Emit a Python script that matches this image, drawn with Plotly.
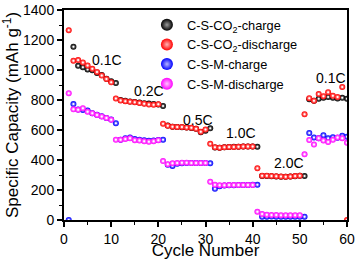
import plotly.graph_objects as go

# ---- data ----
cycles_red = list(range(1, 61))
cs_co2_discharge = [1265, 1062, 1066, 1050, 1030, 1008, 987, 963, 940, 918,
                    810, 797, 792, 788, 785, 780, 775, 770, 768, 772,
                    642, 628, 622, 620, 620, 617, 615, 608, 588, 603,
                    508, 485, 482, 485, 487, 487, 488, 490, 490, 490,
                    345, 295, 295, 293, 292, 290, 288, 290, 293, 295,
                    705, 812, 795, 840, 825, 852, 828, 820, 887, 0]

cycles_black = list(range(2, 61))
cs_co2_charge = [1155, 1028, 1018, 1004, 998, 980, 966, 942, 925, 913,
                 800, 795, 790, 786, 783, 779, 776, 773, 770, 760,
                 630, 622, 620, 618, 617, 613, 608, 585, 595, 611,
                 484, 482, 485, 487, 488, 488, 490, 490, 490, 488,
                 293, 293, 292, 290, 288, 288, 290, 292, 295, 293,
                 805, 795, 808, 815, 820, 815, 810, 815, 808]

cycles_blue = list(range(1, 61))
csm_charge = [0, 773, 737, 733, 730, 712, 702, 692, 680, 670, 645,
              535, 545, 550, 540, 535, 532, 528, 530, 533, 535,
              368, 360, 375, 378, 380, 380, 380, 380, 380, 378,
              208, 225, 230, 232, 232, 233, 233, 233, 235, 235,
              22, 22, 23, 22, 22, 22, 22, 22, 22, 22,
              580, 550, 545, 565, 545, 552, 548, 562, 555]

cycles_magenta = list(range(1, 61))
csm_discharge = [845, 738, 735, 745, 722, 712, 700, 690, 680, 668,
                 535, 535, 540, 545, 532, 530, 525, 522, 525, 532,
                 393, 372, 378, 380, 382, 382, 380, 380, 380, 380,
                 255, 235, 232, 232, 233, 233, 233, 233, 233, 233,
                 55, 40, 35, 33, 33, 32, 32, 32, 32, 32,
                 438, 533, 503, 545, 530, 520, 535, 550, 545, 515]

rate_labels = ["0.1C", "0.2C", "0.5C", "1.0C", "2.0C", "0.1C"]
rate_label_x = [9.1, 18.0, 28.4, 37.5, 47.7, 56.6]
rate_label_y = [1067, 860, 667, 580, 380, 947]

x_ticks = [0, 10, 20, 30, 40, 50, 60]
y_ticks = [0, 200, 400, 600, 800, 1000, 1200, 1400]

FONT = "Liberation Sans, Arial, sans-serif"

fig = go.Figure()
series = [
    ("C-S-CO<sub>2</sub>-charge", cycles_black, cs_co2_charge, "#000000", "#9a9a9a"),
    ("C-S-CO<sub>2</sub>-discharge", cycles_red, cs_co2_discharge, "#ff0000", "#ffb4b4"),
    ("C-S-M-charge", cycles_blue, csm_charge, "#0000ff", "#b4b4ff"),
    ("C-S-M-discharge", cycles_magenta, csm_discharge, "#ff00ff", "#ffc4ff"),
]
for name, xs, ys, col, tint in series:
    fig.add_trace(go.Scatter(
        x=xs, y=ys, mode="markers", name=name,
        marker=dict(size=6, color=col,
                    gradient=dict(type="radial", color=tint),
                    line=dict(width=0)),
    ))
    fig.add_trace(go.Scatter(
        x=xs, y=ys, mode="markers", showlegend=False, hoverinfo="skip",
        marker=dict(size=2, color="#ffffff", line=dict(width=0)),
    ))

for t, x, y in zip(rate_labels, rate_label_x, rate_label_y):
    fig.add_annotation(x=x, y=y, text=t, showarrow=False,
                       font=dict(size=14, color="black", family=FONT))

axis_common = dict(
    showgrid=False, zeroline=False, showline=True, linecolor="black",
    linewidth=2, mirror=True, ticks="outside", ticklen=5, tickwidth=1.5,
    tickcolor="black", tickfont=dict(size=14, color="black", family=FONT),
)
fig.update_xaxes(range=[0, 60], tickvals=x_ticks,
                 minor=dict(dtick=5, ticks="outside", ticklen=3, tickwidth=1.2, tickcolor="black"),
                 title=dict(text="Cycle Number", font=dict(size=17, color="black", family=FONT), standoff=4),
                 **axis_common)
fig.update_yaxes(range=[0, 1400], tickvals=y_ticks,
                 minor=dict(dtick=100, ticks="outside", ticklen=3, tickwidth=1.2, tickcolor="black"),
                 title=dict(text="Specific Capacity (mAh g<sup>-1</sup>)",
                            font=dict(size=17, color="black", family=FONT), standoff=2),
                 **axis_common)

fig.update_layout(
    width=361, height=260,
    margin=dict(l=64, r=14, t=10, b=40, autoexpand=False),
    plot_bgcolor="white", paper_bgcolor="white",
    font=dict(family=FONT, color="black"),
    legend=dict(x=0.293, y=1.0, xanchor="left", yanchor="top",
                bgcolor="rgba(0,0,0,0)", borderwidth=0,
                font=dict(size=12.8, color="black", family=FONT),
                itemsizing="constant", tracegroupgap=0),
)
fig.write_html("out.html", config={"displayModeBar": False},
               post_script="document.body.style.margin='0';document.body.style.overflow='hidden';")
